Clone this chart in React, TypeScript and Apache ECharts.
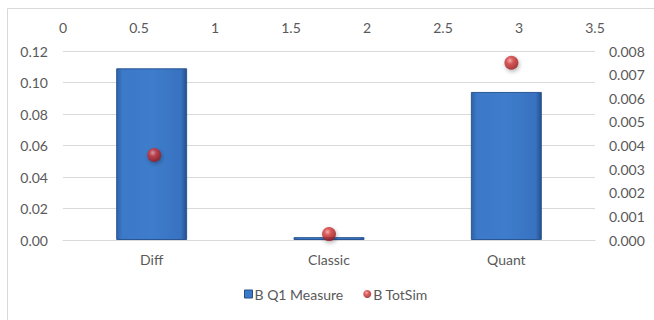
import React, { useEffect, useRef } from "react";
import * as echarts from "echarts";

const categories = ["Diff", "Classic", "Quant"];
const barValues = [0.109, 0.0018, 0.094];
const scatterX = [0.6, 1.75, 2.95];
const scatterY = [0.0036, 0.00025, 0.0075];
const leftTicks = { min: 0, max: 0.12, interval: 0.02 };
const rightTicks = { min: 0, max: 0.008, interval: 0.001 };
const topTicks = { min: 0, max: 3.5, interval: 0.5 };

const FONT = "Lato, sans-serif";
const FS = 14;
const TXT = "#595959";

export default function App() {
  const ref = useRef<HTMLDivElement>(null);
  useEffect(() => {
    if (!ref.current) return;
    const chart = echarts.init(ref.current, null, { renderer: "svg" });
    const barColor = new echarts.graphic.LinearGradient(0, 0, 1, 0, [
      { offset: 0, color: "#2f62a6" },
      { offset: 0.08, color: "#3c79c8" },
      { offset: 0.5, color: "#3e7dcc" },
      { offset: 0.92, color: "#3872c0" },
      { offset: 1, color: "#24508a" },
    ]);
    const ballColor = new echarts.graphic.RadialGradient(0.4, 0.35, 0.7, [
      { offset: 0, color: "#f5a3a3" },
      { offset: 0.35, color: "#d6393a" },
      { offset: 1, color: "#8e1717" },
    ]);
    chart.setOption({
      animation: false,
      backgroundColor: "#ffffff",
      textStyle: { fontFamily: FONT },
      graphic: [
        {
          type: "rect",
          shape: { x: 7.5, y: 8.5, width: 700, height: 400 },
          style: { fill: "none", stroke: "#d9d9d9", lineWidth: 1 },
          silent: true,
        },
      ],
      grid: { left: 63, right: 59, top: 51, bottom: 80 },
      legend: {
        top: 287,
        left: 244,
        padding: 0,
        itemWidth: 8,
        itemHeight: 8,
        itemGap: 20,
        textStyle: { color: TXT, fontSize: FS, fontFamily: FONT, padding: [0, 0, 0, -3] },
        data: [
          { name: "B Q1 Measure", icon: "rect", itemStyle: { color: "#3c79c8", borderColor: "#24508a", borderWidth: 1 } },
          { name: "B TotSim", icon: "circle", itemStyle: { color: ballColor } },
        ],
      },
      xAxis: [
        {
          type: "category",
          data: categories,
          position: "bottom",
          axisLine: { lineStyle: { color: "#d9d9d9" } },
          axisTick: { show: false },
          axisLabel: { color: TXT, fontSize: FS, margin: 12, fontFamily: FONT },
        },
        {
          type: "value",
          position: "top",
          min: topTicks.min,
          max: topTicks.max,
          interval: topTicks.interval,
          axisLine: { show: false },
          axisTick: { show: false },
          splitLine: { show: false },
          axisLabel: { color: TXT, fontSize: FS, margin: 17, fontFamily: FONT, formatter: (v: number) => String(v) },
        },
      ],
      yAxis: [
        {
          type: "value",
          position: "left",
          min: leftTicks.min,
          max: leftTicks.max,
          interval: leftTicks.interval,
          axisLine: { show: false },
          axisTick: { show: false },
          splitLine: { lineStyle: { color: "#d9d9d9" } },
          axisLabel: { color: TXT, fontSize: FS, margin: 15, fontFamily: FONT, formatter: (v: number) => v.toFixed(2) },
        },
        {
          type: "value",
          position: "right",
          min: rightTicks.min,
          max: rightTicks.max,
          interval: rightTicks.interval,
          axisLine: { show: false },
          axisTick: { show: false },
          splitLine: { show: false },
          axisLabel: { color: TXT, fontSize: FS, margin: 14, fontFamily: FONT, formatter: (v: number) => v.toFixed(3) },
        },
      ],
      series: [
        {
          name: "B Q1 Measure",
          type: "bar",
          xAxisIndex: 0,
          yAxisIndex: 0,
          data: barValues,
          barWidth: "40%",
          itemStyle: { color: barColor, borderColor: "#2a5793", borderWidth: 1 },
        },
        {
          name: "B TotSim",
          type: "scatter",
          xAxisIndex: 1,
          yAxisIndex: 1,
          symbolSize: 14,
          data: scatterX.map((x, i) => [x, scatterY[i]]),
          itemStyle: {
            color: ballColor,
            shadowBlur: 4,
            shadowColor: "rgba(0,0,0,0.35)",
            shadowOffsetX: 1,
            shadowOffsetY: 2,
          },
        },
      ],
    });
    return () => chart.dispose();
  }, []);
  return <div ref={ref} style={{ position: "fixed", left: 0, top: 0, width: 654, height: 320 }} />;
}
